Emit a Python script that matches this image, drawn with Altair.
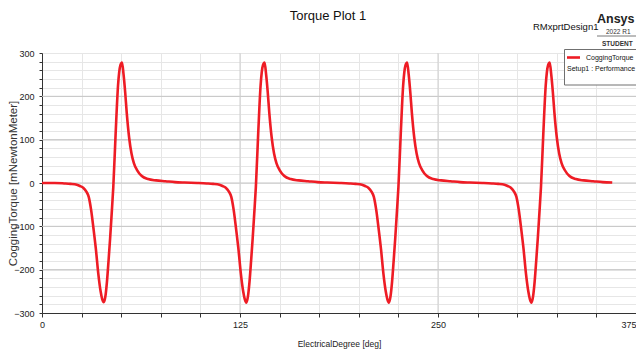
import altair as alt
import pandas as pd

# ---------------- data ----------------
deg_c0 = [0, 8, 14, 18, 22, 24, 26, 28, 29.5, 31, 32.5, 34, 35.5, 37, 38, 39, 40, 41, 42, 43, 44, 45,
          46.5, 48, 49.5, 50.5, 51.5, 52.5, 53.5, 55, 56.5, 58, 60, 63, 67, 72, 78, 84]
tq_c0 = [0, 0, -1, -2, -4, -7, -11, -20, -32, -62, -105, -152, -208, -250, -268, -275, -262, -228, -180, -128, -70, -10,
         115, 225, 272, 278, 250, 210, 162, 105, 68, 46, 30, 16, 9, 6, 4, 2]

deg_c1 = [90, 98, 104, 108, 112, 114, 116, 118, 119.5, 121, 122.5, 124, 125.5, 127, 128, 129, 130, 131, 132, 133, 134, 135,
          136.5, 138, 139.5, 140.5, 141.5, 142.5, 143.5, 145, 146.5, 148, 150, 153, 157, 162, 168, 174]
tq_c1 = [1, 0, -1, -2, -4, -7, -11, -20, -32, -62, -105, -152, -208, -250, -268, -276, -262, -228, -180, -128, -70, -10,
         115, 225, 272, 278, 250, 210, 162, 105, 68, 46, 30, 16, 9, 6, 4, 2]

deg_c2 = [180, 188, 194, 198, 202, 204, 206, 208, 209.5, 211, 212.5, 214, 215.5, 217, 218, 219, 220, 221, 222, 223, 224, 225,
          226.5, 228, 229.5, 230.5, 231.5, 232.5, 233.5, 235, 236.5, 238, 240, 243, 247, 252, 258, 264]
tq_c2 = [1, 0, -1, -2, -4, -7, -11, -20, -32, -62, -105, -152, -208, -250, -268, -276, -262, -228, -180, -128, -70, -10,
         115, 225, 272, 278, 250, 210, 162, 105, 68, 46, 30, 16, 9, 6, 4, 2]

deg_c3 = [270, 278, 284, 288, 292, 294, 296, 298, 299.5, 301, 302.5, 304, 305.5, 307, 308, 309, 310, 311, 312, 313, 314, 315,
          316.5, 318, 319.5, 320.5, 321.5, 322.5, 323.5, 325, 326.5, 328, 330, 333, 337, 342, 348, 354, 360]
tq_c3 = [1, 0, -1, -2, -4, -7, -11, -20, -32, -62, -105, -152, -208, -250, -268, -276, -262, -228, -180, -128, -70, -10,
         115, 225, 272, 278, 250, 210, 162, 105, 68, 46, 30, 16, 9, 6, 4, 2, 1]

x_ticks = [0, 25, 50, 75, 100, 125, 150, 175, 200, 225, 250, 275, 300, 325, 350, 375]
y_ticks = list(range(-300, 301, 20))
major_y = [-200, -100, 0, 100, 200]
major_x = [125, 250]

title_text = "Torque Plot 1"
design_text = "RMxprtDesign1"
legend_series = "CoggingTorque"
legend_setup = "Setup1 : Performance"

# ---------------- build ----------------
df = pd.DataFrame({
    "deg": deg_c0 + deg_c1 + deg_c2 + deg_c3,
    "torque": tq_c0 + tq_c1 + tq_c2 + tq_c3,
})

FONT = "Liberation Sans, Arial, sans-serif"
RED = "#ee1c25"

xscale = alt.Scale(domain=[0, 375], nice=False, zero=False)
yscale = alt.Scale(domain=[-300, 300], nice=False)

xaxis = alt.Axis(values=x_ticks, labelExpr="datum.value % 125 === 0 ? datum.label : ''",
                 labelAlign={"condition": {"test": "datum.value === 375", "value": "right"}, "value": "center"},
                 grid=True, gridColor="#e6e6e6", domainColor="#333333", tickColor="#333333",
                 tickSize=4, labelFont=FONT, labelFontSize=9, labelColor="#222222",
                 labelPadding=3, labelFlush=False, labelOverlap=False,
                 title="ElectricalDegree [deg]", titleFont=FONT, titleFontSize=8.5,
                 titleFontWeight="normal", titleColor="#222222", titlePadding=10)
yaxis = alt.Axis(values=y_ticks, labelExpr="datum.value % 100 === 0 ? datum.label : ''",
                 grid=True, gridColor="#e6e6e6", domainColor="#333333", tickColor="#333333",
                 tickSize=3, labelFont=FONT, labelFontSize=9, labelColor="#222222",
                 labelPadding=5, labelOverlap=False,
                 title="CoggingTorque [mNewtonMeter]", titleFont=FONT, titleFontSize=11.5,
                 titleFontWeight="normal", titleColor="#333333",
                 titleX=-29, titleY=130, titleAngle=270, titleAlign="center", titleBaseline="middle")

hgrid = alt.Chart(pd.DataFrame({"torque": major_y})).mark_rule(
    color="#c4c4c4", strokeWidth=1).encode(y=alt.Y("torque:Q", scale=yscale, axis=yaxis))
vgrid = alt.Chart(pd.DataFrame({"deg": major_x})).mark_rule(
    color="#cfcfcf", strokeWidth=1).encode(x=alt.X("deg:Q", scale=xscale, axis=xaxis))

line = alt.Chart(df).mark_line(color=RED, strokeWidth=2.6, interpolate="monotone").encode(
    x=alt.X("deg:Q", scale=xscale, axis=xaxis),
    y=alt.Y("torque:Q", scale=yscale, axis=yaxis),
)

one = alt.Data(values=[{"k": 1}])


def txt(text, x, y, size, weight="normal", align="left", color="#111111", baseline="middle"):
    return alt.Chart(one).mark_text(
        text=text, font=FONT, fontSize=size, fontWeight=weight, align=align,
        baseline=baseline, color=color
    ).encode(x=alt.value(x), y=alt.value(y))


title = txt(title_text, 286, -37, 13, align="center")
design = txt(design_text, 491, -26, 9.5)
ansys = txt("Ansys", 555, -30, 12.5, weight="bold", baseline="alphabetic", color="#222222")
ver = txt("2022 R1", 564, -21.5, 6.5, color="#333333")
student = txt("STUDENT", 560, -9.5, 6.5, weight="bold", color="#333333")
sep = alt.Chart(one).mark_rule(color="#555555", strokeWidth=0.8).encode(
    x=alt.value(555), x2=alt.value(610), y=alt.value(-17))

legend_box = alt.Chart(one).mark_rect(fill="white", stroke="#707070", strokeWidth=1).encode(
    x=alt.value(522.5), x2=alt.value(640), y=alt.value(-3.5), y2=alt.value(32))
legend_line = alt.Chart(one).mark_rule(color=RED, strokeWidth=2.6).encode(
    x=alt.value(525), x2=alt.value(538), y=alt.value(4.5))
legend_t1 = txt(legend_series, 544, 5, 7)
legend_t2 = txt(legend_setup, 525, 16, 7)

chart = alt.layer(
    hgrid, vgrid, line, legend_box, legend_line, legend_t1, legend_t2,
    title, design, ansys, ver, sep, student
).properties(
    width=594, height=260,
    padding={"left": 34, "top": 45, "right": 0, "bottom": 37},
    autosize=alt.AutoSizeParams(type="none"),
).configure_view(stroke="#808080", strokeWidth=1).configure(background="white")

chart.save("out.html", embed_options={"renderer": "svg", "actions": False})
